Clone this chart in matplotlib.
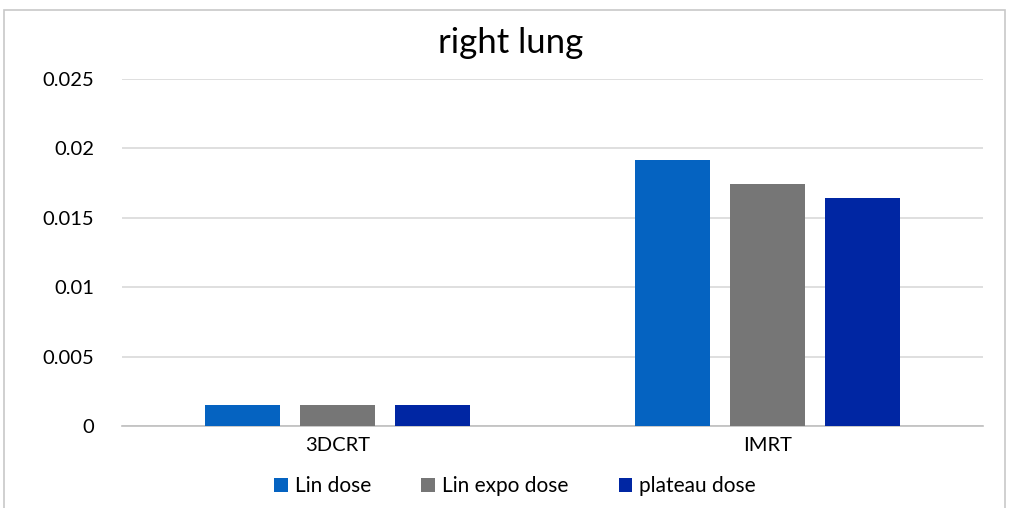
import numpy as np
import matplotlib.pyplot as plt
from matplotlib.patches import Rectangle

plt.rcParams['font.family'] = ['Lato', 'DejaVu Sans']

categories = ["3DCRT", "IMRT"]
series_names = ["Lin dose", "Lin expo dose", "plateau dose"]
lin_dose = [0.0015, 0.0192]
lin_expo_dose = [0.0015, 0.0174]
plateau_dose = [0.0015, 0.0164]
yticks = [0, 0.005, 0.01, 0.015, 0.02, 0.025]
ytick_labels = ["0", "0.005", "0.01", "0.015", "0.02", "0.025"]

colors = ["#0563C1", "#767676", "#0026A3"]

fig = plt.figure(figsize=(10.1, 5.08), dpi=100)
ax = fig.add_axes([0.1208, 0.1614, 0.8525, 0.6831])

# outer chart border
fig.patches.append(Rectangle((0.004, -0.01), 0.991, 0.99, transform=fig.transFigure,
                             fill=False, edgecolor="#c8c8c8", linewidth=1.2))

x = np.arange(len(categories))
width = 0.174
step = 0.221
for i, (vals, name) in enumerate(zip([lin_dose, lin_expo_dose, plateau_dose], series_names)):
    ax.bar(x + (i - 1) * step, vals, width, color=colors[i], label=name, zorder=3)

ax.set_xlim(-0.5, 1.5)
ax.set_ylim(0, 0.025)
ax.set_yticks(yticks)
ax.set_yticklabels(ytick_labels)
ax.set_xticks(x)
ax.set_xticklabels(categories)
ax.tick_params(axis='both', length=0, labelsize=14.5, colors="#000000")
ax.tick_params(axis='y', pad=20)
ax.tick_params(axis='x', pad=8)
ax.grid(axis='y', color="#d9d9d9", linewidth=1.2, zorder=0)
for s in ['top', 'right', 'left']:
    ax.spines[s].set_visible(False)
ax.spines['bottom'].set_color("#bfbfbf")
ax.spines['bottom'].set_linewidth(1.2)

fig.text(0.506, 0.915, "right lung", ha='center', va='center', fontsize=25)
fig.legend(loc='center', bbox_to_anchor=(0.51, 0.043), ncol=3, frameon=False,
           fontsize=15, handlelength=0.65, handleheight=0.65, handletextpad=0.35,
           columnspacing=2.4)

fig.savefig("out.png", dpi=100)
